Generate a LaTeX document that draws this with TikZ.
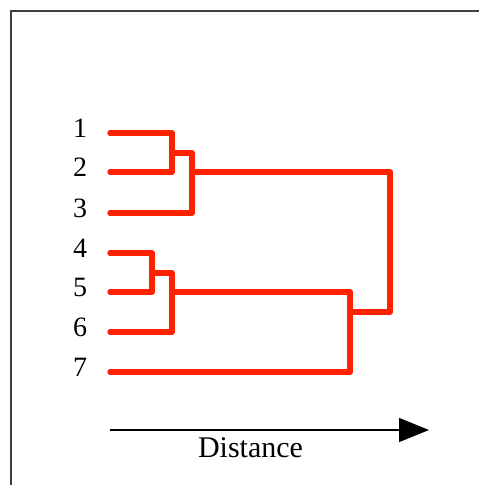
\documentclass[tikz,border=0pt]{standalone}
\usepackage{fontspec}
\setmainfont{Liberation Serif}
\usetikzlibrary{arrows.meta}
\definecolor{treered}{RGB}{255,34,0}
\definecolor{framegray}{RGB}{64,64,64}
\begin{document}
\begin{tikzpicture}[x=1pt,y=-1pt,
  branch/.style={draw=treered,line width=5.5pt,line cap=round,line join=round},
  leaflabel/.style={anchor=base,inner sep=0pt,font=\fontsize{28pt}{30pt}\selectfont},
  axislabel/.style={anchor=base,inner sep=0pt,font=\fontsize{30pt}{32pt}\selectfont}]
\useasboundingbox (0,0) rectangle (479,485);
\fill[white] (0,0) rectangle (479,485);
% frame
\coordinate (fl) at (11,485);
\coordinate (fc) at (11,11);
\coordinate (fr) at (480,11);
\draw[framegray,line width=1.5pt] (fl) -- (fc) -- (fr);
% leaves
\coordinate (l1) at (110,133);
\coordinate (l2) at (110,172);
\coordinate (l3) at (110,213);
\coordinate (l4) at (110,253);
\coordinate (l5) at (110,292);
\coordinate (l6) at (110,332);
\coordinate (l7) at (110,372);
\node[leaflabel] (n1) at (80,137) {1};
\node[leaflabel] (n2) at (80,176) {2};
\node[leaflabel] (n3) at (80,217) {3};
\node[leaflabel] (n4) at (80,257) {4};
\node[leaflabel] (n5) at (80,296) {5};
\node[leaflabel] (n6) at (80,336) {6};
\node[leaflabel] (n7) at (80,376) {7};
% merge points
\coordinate (m12) at (172,153);
\coordinate (m123) at (192,172);
\coordinate (m45) at (152,273);
\coordinate (m456) at (172,292);
\coordinate (m4567) at (350,312);
% tree
\draw[branch] (l1) -- (172,133) -- (172,172) -- (l2);
\draw[branch] (m12) -- (192,153) -- (192,213) -- (l3);
\draw[branch] (m123) -- (390,172) -- (390,312) -- (m4567);
\draw[branch] (l4) -- (152,253) -- (152,292) -- (l5);
\draw[branch] (m45) -- (172,273) -- (172,332) -- (l6);
\draw[branch] (m456) -- (350,292) -- (350,372) -- (l7);
% axis
\coordinate (a0) at (110,430);
\coordinate (a1) at (429,430);
\draw[line width=1.5pt,-{Triangle[length=30pt,width=24pt]}] (a0) -- (a1);
\node[axislabel] (dist) at (250.5,457) {Distance};
\end{tikzpicture}
\end{document}
